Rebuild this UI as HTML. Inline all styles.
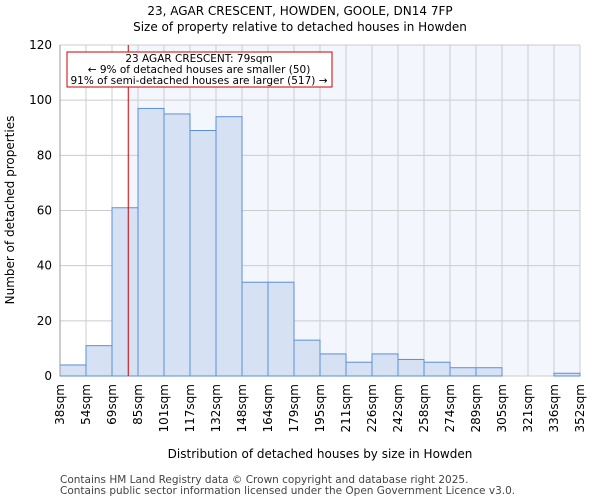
<!DOCTYPE html>
<html><head><meta charset="utf-8"><style>
body{margin:0;background:#fff;font-family:"DejaVu Sans","Liberation Sans",sans-serif}
</style></head><body>
<svg id="c" width="600" height="500" xmlns="http://www.w3.org/2000/svg" font-family="DejaVu Sans, Liberation Sans, sans-serif">
<text x="300" y="15" text-anchor="middle" font-size="12">23, AGAR CRESCENT, HOWDEN, GOOLE, DN14 7FP</text>
<text x="300" y="31" text-anchor="middle" font-size="12">Size of property relative to detached houses in Howden</text>
<g id="plot"></g>
<text x="14" y="210" text-anchor="middle" font-size="12" transform="rotate(-90 14 210)">Number of detached properties</text>
<text x="320" y="458" text-anchor="middle" font-size="12">Distribution of detached houses by size in Howden</text>
<text x="60" y="483" font-size="10.5" fill="#444">Contains HM Land Registry data © Crown copyright and database right 2025.</text>
<text x="60" y="494" font-size="10.5" fill="#444">Contains public sector information licensed under the Open Government Licence v3.0.</text>
</svg>
<script>
const categories=["38sqm","54sqm","69sqm","85sqm","101sqm","117sqm","132sqm","148sqm","164sqm","179sqm","195sqm","211sqm","226sqm","242sqm","258sqm","274sqm","289sqm","305sqm","321sqm","336sqm","352sqm"];
const edges=[38,54,69,85,101,117,132,148,164,179,195,211,226,242,258,274,289,305,321,336,352];
const counts=[4,11,61,97,95,89,94,34,34,13,8,5,8,6,5,3,3,0,0,1];
const yTicks=[0,20,40,60,80,100,120];
const marker=79;
const NS="http://www.w3.org/2000/svg";
const L=60,R=580,T=45,B=376,yMax=120;
const nb=counts.length,bw=(R-L)/nb;
const xi=i=>L+i*bw;
function xv(v){let i=0;while(i<edges.length-2&&v>edges[i+1])i++;return xi(i)+(v-edges[i])/(edges[i+1]-edges[i])*bw;}
const y=v=>B-v/yMax*(B-T);
const g=document.getElementById('plot');
function mk(t,a,txt){const e=document.createElementNS(NS,t);for(const k in a)e.setAttribute(k,a[k]);if(txt!=null)e.textContent=txt;g.appendChild(e);return e;}
const mx=xv(marker);
let e=mk('rect',{x:mx,y:T,width:R-mx,height:B-T,fill:'#f3f6fd'});


yTicks.forEach(t=>{
 let l=mk('line',{x1:L,x2:R,y1:y(t),y2:y(t),stroke:'#ccc','stroke-width':1});
 
 
 let tx=mk('text',{x:L-8,y:y(t)+4,'text-anchor':'end','font-size':12},t);
 
 
});
categories.forEach((c,i)=>{
 let l=mk('line',{x1:xi(i),x2:xi(i),y1:T,y2:B,stroke:'#ccc','stroke-width':1});
 
 
 const X=xi(i)+4;
 let tx=mk('text',{x:X,y:B+8,'text-anchor':'end','font-size':12,transform:`rotate(-90 ${X} ${B+8})`},c);
 
 
});
counts.forEach((v,i)=>{
 if(v<=0)return;
 let r=mk('rect',{x:xi(i),y:y(v),width:bw,height:B-y(v),fill:'#d6e1f4',stroke:'#5b8fd6','stroke-width':1});
 
 
});
e=mk('line',{x1:mx,x2:mx,y1:T,y2:B,stroke:'#cc0000','stroke-width':1});


e=mk('rect',{x:67,y:52,width:265,height:35,fill:'#fff',stroke:'#cc0000','stroke-width':1});


[["23 AGAR CRESCENT: 79sqm",62],["← 9% of detached houses are smaller (50)",73],["91% of semi-detached houses are larger (517) →",84]].forEach(a=>{
 let t=mk('text',{x:199,y:a[1],'text-anchor':'middle','font-size':10.5},a[0]);
 
 
});
e=mk('line',{x1:L,x2:L,y1:T,y2:B,stroke:'#999'});


</script>
</body></html>
